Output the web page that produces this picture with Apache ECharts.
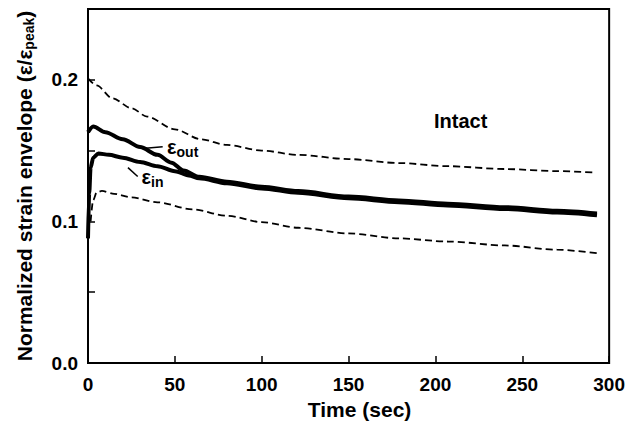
<!DOCTYPE html>
<html>
<head>
<meta charset="utf-8">
<script src="https://cdn.jsdelivr.net/npm/echarts@6/dist/echarts.min.js"></script>
<style>
  html, body { margin: 0; padding: 0; background: #fff; }
  #chart { width: 628px; height: 425px; }
</style>
</head>
<body>
<div id="chart"></div>
<script>
// upper dashed bound
const upperT = [0, 5, 14, 25, 34, 50, 65, 80, 100, 121, 150, 179, 207, 240, 270, 292]
const upperV = [0.201, 0.196, 0.187, 0.180, 0.174, 0.165, 0.158, 0.154, 0.150, 0.147, 0.1440, 0.1412, 0.139, 0.137, 0.1355, 0.1345]
// eps_out (thick)
const outT = [0, 3, 10, 20, 30, 40, 48, 55, 64, 80, 100, 121, 150, 179, 207, 240, 270, 293]
const outV = [0.163, 0.167, 0.163, 0.158, 0.1525, 0.147, 0.1415, 0.136, 0.1315, 0.128, 0.1245, 0.1214, 0.1175, 0.1148, 0.1125, 0.110, 0.1075, 0.1055]
// eps_in (thick)
const inT = [0, 0.7, 1.5, 3, 6, 12, 20, 30, 40, 50, 58, 64, 80, 100, 121, 150, 179, 207, 240, 270, 293]
const inV = [0.088, 0.120, 0.138, 0.145, 0.148, 0.147, 0.145, 0.142, 0.139, 0.1355, 0.1325, 0.1305, 0.127, 0.1233, 0.1202, 0.1163, 0.1136, 0.1113, 0.1088, 0.1063, 0.1043]
// lower dashed bound
const lowerT = [1.5, 3, 5, 8, 15, 25, 40, 60, 80, 100, 121, 150, 179, 207, 240, 270, 293]
const lowerV = [0.100, 0.115, 0.1205, 0.1215, 0.1195, 0.117, 0.1135, 0.1085, 0.104, 0.0995, 0.0955, 0.0915, 0.088, 0.0858, 0.083, 0.080, 0.0775]

const xTicks = [0, 50, 100, 150, 200, 250, 300]
const yLabels = ['0.0', '0.1', '0.2']

const font = 'Liberation Sans, Arial, sans-serif'

function pairs (t, v) {
  return t.map((x, i) => [x, v[i]])
}

const chart = echarts.init(document.getElementById('chart'), null, { renderer: 'svg' })

const epsRich = {
  e: { fontSize: 20, fontWeight: 'bold', fontFamily: font, color: '#000' },
  s: { fontSize: 14, fontWeight: 'bold', fontFamily: font, color: '#000', verticalAlign: 'bottom', padding: [10, 0, 0, 0] }
}

const dashStyle = { color: '#000', width: 1.8, type: [7, 4] }

const option = {
  animation: false,
  backgroundColor: '#fff',
  grid: {
    left: 88,
    right: 16,
    top: 9,
    bottom: 61,
    show: true,
    borderColor: '#000',
    borderWidth: 2
  },
  xAxis: {
    type: 'value',
    min: xTicks[0],
    max: xTicks[xTicks.length - 1],
    interval: 50,
    name: 'Time (sec)',
    nameLocation: 'middle',
    nameGap: 36,
    nameTextStyle: { fontSize: 21, fontWeight: 'bold', fontFamily: font, color: '#000', padding: [0, 0, 0, 22] },
    axisLine: { lineStyle: { color: '#000', width: 2 } },
    axisTick: { inside: true, length: 7, lineStyle: { color: '#000', width: 1.5 } },
    axisLabel: { fontSize: 19, fontWeight: 'bold', fontFamily: font, color: '#000', margin: 12 },
    splitLine: { show: false }
  },
  yAxis: {
    type: 'value',
    min: 0,
    max: 0.25,
    interval: 0.05,
    name: '{t|Normalized strain envelope (ε/ε}{s|peak}{t|)}',
    nameLocation: 'middle',
    nameRotate: 90,
    nameGap: 52,
    nameTextStyle: {
      rich: {
        t: { fontSize: 21, fontWeight: 'bold', fontFamily: font, color: '#000' },
        s: { fontSize: 14, fontWeight: 'bold', fontFamily: font, color: '#000', verticalAlign: 'bottom', padding: [10, 0, 0, 0] }
      }
    },
    axisLine: { lineStyle: { color: '#000', width: 2 } },
    axisTick: { inside: true, length: 7, lineStyle: { color: '#000', width: 1.5 } },
    axisLabel: {
      fontSize: 19,
      fontWeight: 'bold',
      fontFamily: font,
      color: '#000',
      margin: 10,
      formatter: function (v) {
        const k = Math.round(v * 20)
        return k % 2 === 0 ? (yLabels[k / 2] || '') : ''
      }
    },
    splitLine: { show: false }
  },
  series: [
    {
      name: 'upper',
      type: 'line',
      data: pairs(upperT, upperV),
      smooth: 0.3,
      smoothMonotone: 'x',
      showSymbol: false,
      lineStyle: dashStyle,
      z: 3
    },
    {
      name: 'lower',
      type: 'line',
      data: pairs(lowerT, lowerV),
      smooth: 0.3,
      smoothMonotone: 'x',
      showSymbol: false,
      lineStyle: dashStyle,
      z: 3
    },
    {
      name: 'eps_out',
      type: 'line',
      data: pairs(outT, outV),
      smooth: 0.3,
      smoothMonotone: 'x',
      showSymbol: false,
      lineStyle: { color: '#000', width: 4 },
      z: 4,
      markLine: {
        silent: true,
        symbol: ['none', 'none'],
        label: { show: false },
        lineStyle: { color: '#000', width: 1.5, type: 'solid' },
        data: [
          [{ coord: [31.5, 0.1514] }, { coord: [43, 0.1528] }],
          [{ coord: [23, 0.138] }, { coord: [28.6, 0.1317] }]
        ]
      },
      markPoint: {
        silent: true,
        symbol: 'circle',
        symbolSize: 0,
        label: { show: true, position: 'right', distance: 0 },
        data: [
          {
            coord: [45.5, 0.1525],
            label: { formatter: '{e|ε}{s|out}', rich: epsRich }
          },
          {
            coord: [30.8, 0.1315],
            label: { formatter: '{e|ε}{s|in}', rich: epsRich }
          },
          {
            coord: [214.5, 0.171],
            label: {
              position: 'inside',
              formatter: 'Intact',
              fontSize: 20,
              fontWeight: 'bold',
              fontFamily: font,
              color: '#000'
            }
          }
        ]
      }
    },
    {
      name: 'eps_in',
      type: 'line',
      data: pairs(inT, inV),
      smooth: 0.3,
      smoothMonotone: 'x',
      showSymbol: false,
      lineStyle: { color: '#000', width: 4 },
      z: 4
    }
  ]
}

chart.setOption(option)
</script>
</body>
</html>
